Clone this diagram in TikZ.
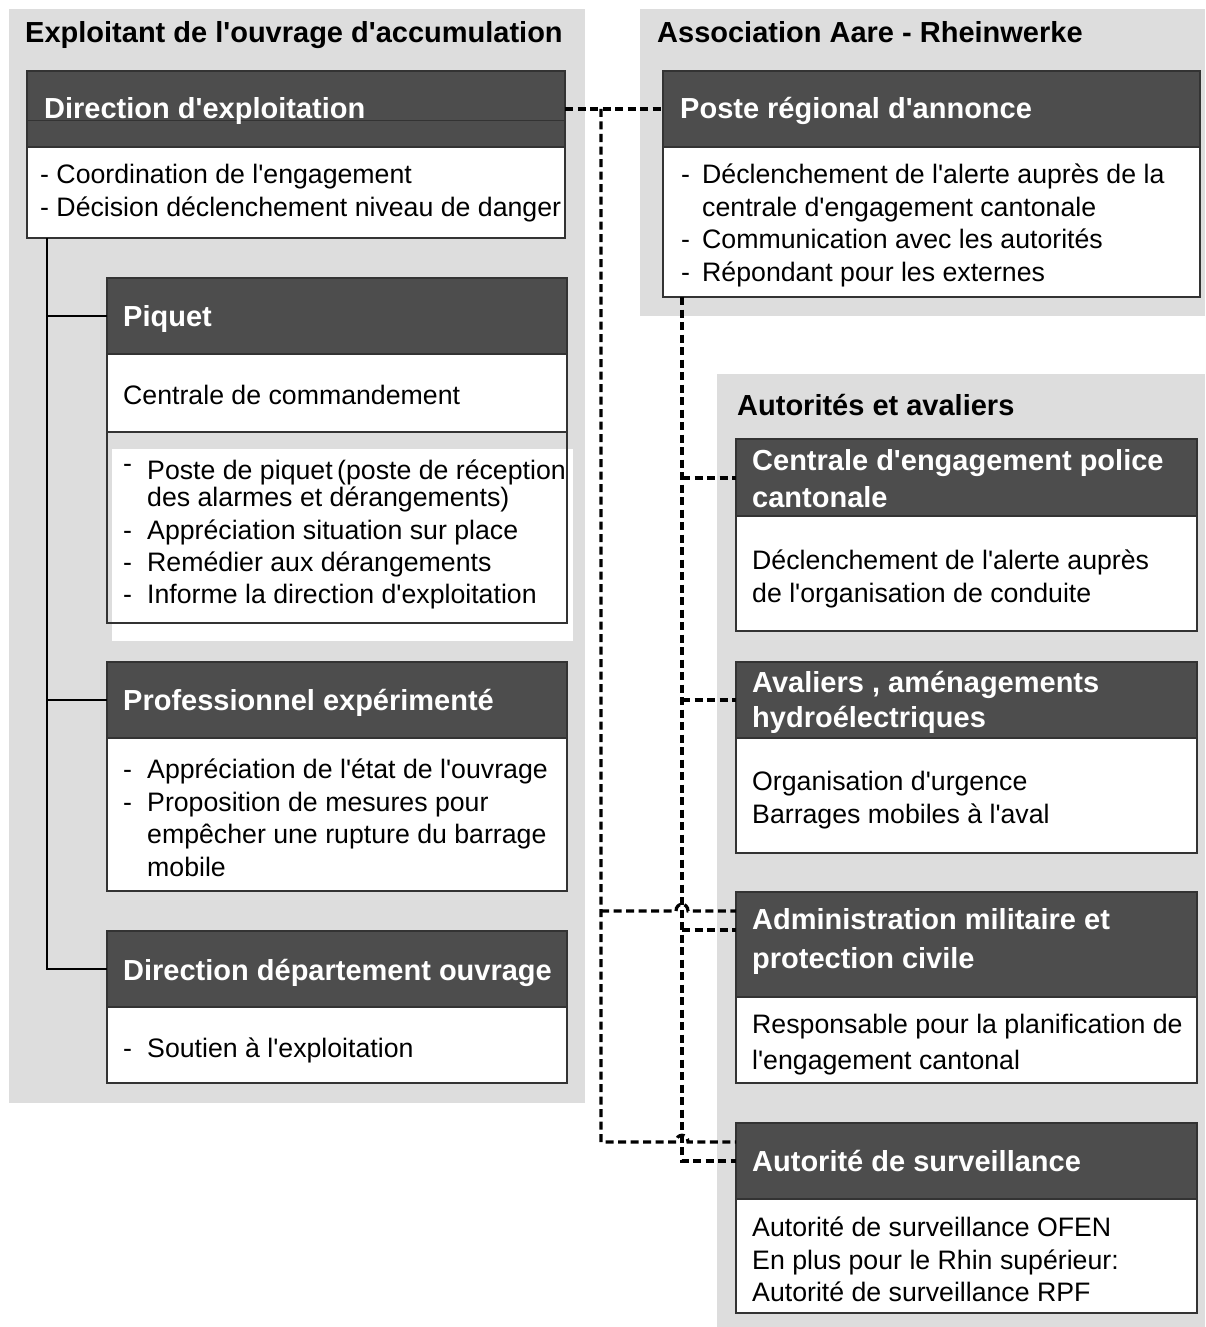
\documentclass[tikz,border=0pt]{standalone}
\usepackage{fontspec}
\setmainfont{Liberation Sans}[Ligatures=TeXOff]
\definecolor{panel}{HTML}{DDDDDD}
\definecolor{hdr}{HTML}{4D4D4D}
\definecolor{bord}{HTML}{333333}
\begin{document}
\begin{tikzpicture}[x=1pt,y=-1pt,
  panelbg/.style={fill=panel,draw=none},
  hdrbox/.style={fill=hdr,draw=bord,line width=1.2pt,inner sep=0,outer sep=0,anchor=north west},
  bodybox/.style={fill=white,draw=bord,line width=1.2pt,inner sep=0,outer sep=0,anchor=north west},
  ttl/.style={font=\fontsize{29}{33}\selectfont\bfseries,anchor=base west,inner sep=0},
  htxt/.style={ttl,text=white},
  btxt/.style={font=\fontsize{26.7}{33}\selectfont,anchor=base west,inner sep=0},
  link/.style={line width=3.2pt,dash pattern=on 8pt off 4.5pt,black},
  tree/.style={line width=1.3pt,black}]
\useasboundingbox[fill=white] (0,0) rectangle (1205,1327);
% panels
\fill[panelbg] (9,9) rectangle (585,1103);
\fill[panelbg] (640,9) rectangle (1205,316);
\fill[panelbg] (717,374) rectangle (1205,1327);
% titles
\node[ttl] (t1) at (25,43) {Exploitant de l'ouvrage d'accumulation};
\node[ttl] (t2) at (657,43) {Association Aare - Rheinwerke};
\node[ttl] (t3) at (737,415) {Autorités et avaliers};
% Direction d'exploitation
\node[hdrbox,minimum width=538,minimum height=76] (dirH) at (27,71) {};
\draw[bord,line width=1pt] (27,121) -- (565,121);
\node[bodybox,minimum width=538,minimum height=91] (dirB) at (27,147) {};
\node[htxt] (dirT) at (44,119) {Direction d'exploitation};
\node[btxt] (dir1) at (40,183) {- Coordination de l'engagement};
\node[btxt] (dir2) at (40,216) {- Décision déclenchement niveau de danger};
% Poste regional
\node[hdrbox,minimum width=537,minimum height=76] (posteH) at (663,71) {};
\node[bodybox,minimum width=537,minimum height=150] (posteB) at (663,147) {};
\node[htxt] (posteT) at (680,119) {Poste régional d'annonce};
\node[btxt] (pd1) at (681,183) {-};
\node[btxt] (pt1) at (702,183) {Déclenchement de l'alerte auprès de la};
\node[btxt] (pt2) at (702,216) {centrale d'engagement cantonale};
\node[btxt] (pd3) at (681,248) {-};
\node[btxt] (pt3) at (702,248) {Communication avec les autorités};
\node[btxt] (pd4) at (681,281) {-};
\node[btxt] (pt4) at (702,281) {Répondant pour les externes};
% Piquet
\fill[white] (112,449) rectangle (573,641);
\node[hdrbox,minimum width=460,minimum height=76] (piqH) at (107,278) {};
\node[bodybox,minimum width=460,minimum height=78] (piqB) at (107,354) {};
\node[bodybox,fill=none,minimum width=460,minimum height=191] (piqL) at (107,432) {};
\node[htxt] (piqT) at (123,326) {Piquet};
\node[btxt] (piq0) at (123,404) {Centrale de commandement};
\node[btxt] (qd1) at (123,472) {-};
\node[btxt] (qt1) at (147,479) {Poste de piquet\,(poste de réception};
\node[btxt] (qt2) at (147,506) {des alarmes et dérangements)};
\node[btxt] (qd3) at (123,539) {-};
\node[btxt] (qt3) at (147,539) {Appréciation situation sur place};
\node[btxt] (qd4) at (123,571) {-};
\node[btxt] (qt4) at (147,571) {Remédier aux dérangements};
\node[btxt] (qd5) at (123,603) {-};
\node[btxt] (qt5) at (147,603) {Informe la direction d'exploitation};
% Professionnel
\node[hdrbox,minimum width=460,minimum height=76] (profH) at (107,662) {};
\node[bodybox,minimum width=460,minimum height=153] (profB) at (107,738) {};
\node[htxt] (profT) at (123,710) {Professionnel expérimenté};
\node[btxt] (rd1) at (123,778) {-};
\node[btxt] (rt1) at (147,778) {Appréciation de l'état de l'ouvrage};
\node[btxt] (rd2) at (123,811) {-};
\node[btxt] (rt2) at (147,811) {Proposition de mesures pour};
\node[btxt] (rt3) at (147,843) {empêcher une rupture du barrage};
\node[btxt] (rt4) at (147,876) {mobile};
% Direction departement
\node[hdrbox,minimum width=460,minimum height=76] (deptH) at (107,931) {};
\node[bodybox,minimum width=460,minimum height=76] (deptB) at (107,1007) {};
\node[htxt] (deptT) at (123,980) {Direction département ouvrage};
\node[btxt] (sd1) at (123,1057) {-};
\node[btxt] (st1) at (147,1057) {Soutien à l'exploitation};
% Centrale
\node[hdrbox,minimum width=461,minimum height=77] (cenH) at (736,439) {};
\node[bodybox,minimum width=461,minimum height=115] (cenB) at (736,516) {};
\node[htxt] (cenT1) at (752,470) {Centrale d'engagement police};
\node[htxt] (cenT2) at (752,507) {cantonale};
\node[btxt] (cen1) at (752,569) {Déclenchement de l'alerte auprès};
\node[btxt] (cen2) at (752,602) {de l'organisation de conduite};
% Avaliers
\node[hdrbox,minimum width=461,minimum height=76] (avaH) at (736,662) {};
\node[bodybox,minimum width=461,minimum height=115] (avaB) at (736,738) {};
\node[htxt] (avaT1) at (752,692) {Avaliers , aménagements};
\node[htxt] (avaT2) at (752,727) {hydroélectriques};
\node[btxt] (ava1) at (752,790) {Organisation d'urgence};
\node[btxt] (ava2) at (752,823) {Barrages mobiles à l'aval};
% Administration
\node[hdrbox,minimum width=461,minimum height=105] (admH) at (736,892) {};
\node[bodybox,minimum width=461,minimum height=86] (admB) at (736,997) {};
\node[htxt] (admT1) at (752,929) {Administration militaire et};
\node[htxt] (admT2) at (752,968) {protection civile};
\node[btxt] (adm1) at (752,1033) {Responsable pour la planification de};
\node[btxt] (adm2) at (752,1069) {l'engagement cantonal};
% Autorite
\node[hdrbox,minimum width=461,minimum height=76] (autH) at (736,1123) {};
\node[bodybox,minimum width=461,minimum height=114] (autB) at (736,1199) {};
\node[htxt] (autT) at (752,1171) {Autorité de surveillance};
\node[btxt] (aut1) at (752,1236) {Autorité de surveillance OFEN};
\node[btxt] (aut2) at (752,1269) {En plus pour le Rhin supérieur:};
\node[btxt] (aut3) at (752,1301) {Autorité de surveillance RPF};
% tree
\coordinate (t0) at (47,238);
\draw[tree] (t0) |- (deptH.west);
\draw[tree] (t0 |- piqH.west) -- (piqH.west);
\draw[tree] (t0 |- profH.west) -- (profH.west);
% dashed links
\coordinate (jL) at (601,109);
\coordinate (jLa) at (601,911);
\coordinate (jLb) at (601,1142);
\coordinate (jR0) at (682,297);
\coordinate (jRa) at (682,478);
\coordinate (jRb) at (682,700);
\coordinate (jRc) at (682,930);
\coordinate (jRd) at (682,1161);
\draw[link] (dirH.east) -- (posteH.west);
\draw[link] (jL) -- (jLb) -- (676,1142) .. controls (676,1133) and (688,1133) .. (688,1142) -- (autH.west |- jLb);
\draw[link] (jLa) -- (676,911) .. controls (676,902) and (688,902) .. (688,911) -- (admH.west |- jLa);
\draw[link] (jR0) -- (jRd) -- (autH.west |- jRd);
\draw[link] (jRa) -- (cenH.west |- jRa);
\draw[link] (jRb) -- (avaH.west |- jRb);
\draw[link] (jRc) -- (admH.west |- jRc);
\end{tikzpicture}
\end{document}
